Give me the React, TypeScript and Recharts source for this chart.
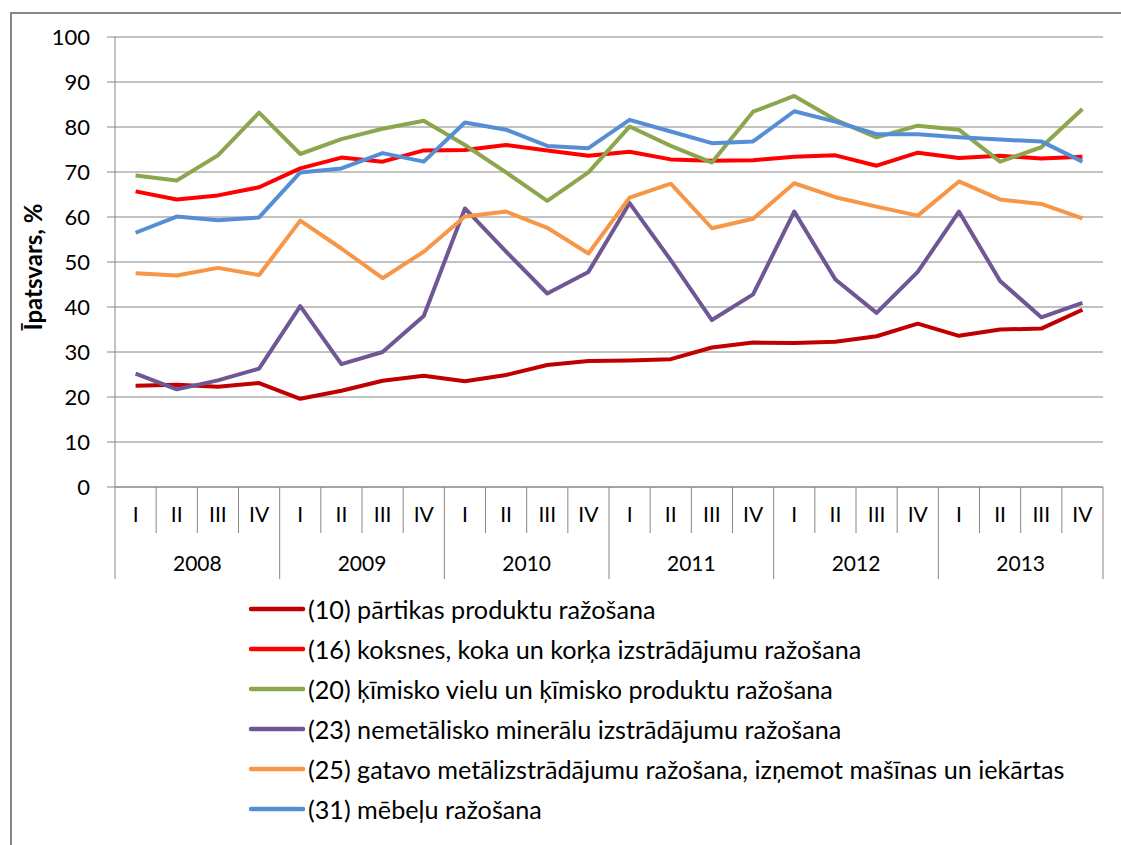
import { LineChart, Line, XAxis, YAxis, CartesianGrid, Legend } from 'recharts';

// Category labels
const years = ['2008', '2009', '2010', '2011', '2012', '2013'];
const quarters = ['I', 'II', 'III', 'IV'];
const yTicks = [0, 10, 20, 30, 40, 50, 60, 70, 80, 90, 100];

// Share, % by NACE division, quarterly 2008–2013
const food = [22.5, 22.7, 22.3, 23.1, 19.6, 21.4, 23.6, 24.7, 23.5, 24.9, 27.1, 28.0, 28.1, 28.4, 31.0, 32.1, 32.0, 32.3, 33.5, 36.3, 33.6, 35.0, 35.2, 39.4];
const wood = [65.7, 63.9, 64.8, 66.6, 70.8, 73.2, 72.3, 74.8, 74.9, 76.0, 74.8, 73.6, 74.5, 72.8, 72.5, 72.6, 73.4, 73.7, 71.4, 74.3, 73.1, 73.6, 73.0, 73.4];
const chemicals = [69.2, 68.1, 73.7, 83.2, 74.0, 77.3, 79.6, 81.4, 76.0, 69.9, 63.6, 69.9, 80.1, 75.8, 72.1, 83.4, 86.9, 81.6, 77.7, 80.3, 79.4, 72.3, 75.5, 84.0];
const minerals = [25.2, 21.7, 23.7, 26.3, 40.2, 27.3, 30.0, 38.0, 61.9, 52.3, 43.0, 47.8, 63.1, 50.4, 37.1, 42.8, 61.2, 46.1, 38.7, 47.8, 61.2, 45.8, 37.7, 40.9];
const metal = [47.5, 47.0, 48.7, 47.1, 59.2, 53.0, 46.4, 52.3, 60.1, 61.2, 57.6, 51.9, 64.3, 67.4, 57.5, 59.6, 67.5, 64.4, 62.3, 60.3, 67.9, 63.9, 62.9, 59.7];
const furniture = [56.5, 60.1, 59.3, 59.9, 69.9, 70.8, 74.2, 72.3, 81.0, 79.4, 75.8, 75.3, 81.6, 79.0, 76.4, 76.8, 83.5, 81.2, 78.4, 78.4, 77.7, 77.2, 76.8, 72.3];

const series = [
  { key: 'food', name: '(10) pārtikas produktu ražošana', color: '#C00000', values: food },
  { key: 'wood', name: '(16) koksnes, koka un korķa izstrādājumu ražošana', color: '#FF0000', values: wood },
  { key: 'chemicals', name: '(20) ķīmisko vielu un ķīmisko produktu ražošana', color: '#8BA64D', values: chemicals },
  { key: 'minerals', name: '(23) nemetālisko minerālu izstrādājumu ražošana', color: '#6E5794', values: minerals },
  { key: 'metal', name: '(25) gatavo metālizstrādājumu ražošana, izņemot mašīnas un iekārtas', color: '#F79646', values: metal },
  { key: 'furniture', name: '(31) mēbeļu ražošana', color: '#558ED5', values: furniture },
];

const chartData = years.flatMap((year, yi) =>
  quarters.map((q, qi) => {
    const i = yi * 4 + qi;
    const row: Record<string, string | number> = { cat: `${year}|${q}` };
    series.forEach((s) => {
      row[s.key] = s.values[i];
    });
    return row;
  })
);

const FONT = 'Lato, "Open Sans", sans-serif';
const GRID = '#868686';
const PLOT_LEFT = 115;
const PLOT_RIGHT = 1103;
const BAND = (PLOT_RIGHT - PLOT_LEFT) / 24;

function CategoryTick(props: any) {
  const { x, y, payload } = props;
  const [year, q] = String(payload.value).split('|');
  const i = payload.index ?? 0;
  const left = x - BAND / 2;
  const right = x + BAND / 2;
  return (
    <g>
      <line x1={left} y1={y} x2={left} y2={y + (i % 4 === 0 ? 92 : 46)} stroke={GRID} strokeWidth={1} />
      {i === 23 && <line x1={right} y1={y} x2={right} y2={y + 92} stroke={GRID} strokeWidth={1} />}
      <text x={x} y={y + 35} textAnchor="middle" fontSize={21} fontFamily={FONT} fill="#000">
        {q}
      </text>
      {i % 4 === 1 && (
        <text x={right} y={y + 84} textAnchor="middle" fontSize={21} fontFamily={FONT} fill="#000">
          {year}
        </text>
      )}
    </g>
  );
}

function LegendContent(props: any) {
  const { payload } = props;
  return (
    <div style={{ fontFamily: FONT, fontSize: 25.2, color: '#000' }}>
      {(payload || []).map((item: any) => (
        <div key={item.value} style={{ display: 'flex', alignItems: 'center', height: 40, whiteSpace: 'nowrap' }}>
          <svg width={58} height={10} style={{ marginRight: 2 }}>
            <line x1={3} y1={5} x2={55} y2={5} stroke={item.color} strokeWidth={4.5} strokeLinecap="round" />
          </svg>
          <span>{item.value}</span>
        </div>
      ))}
    </div>
  );
}

export default function App() {
  return (
    <div style={{ position: 'absolute', left: 0, top: 0, width: 1121, height: 845, overflow: 'hidden', background: '#fff' }}>
      <div
        style={{
          position: 'absolute',
          left: 10,
          top: 12,
          right: -2,
          bottom: -2,
          borderTop: `2px solid ${GRID}`,
          borderLeft: `2px solid ${GRID}`,
        }}
      />
      <div style={{ position: 'absolute', left: 0, top: 0 }}>
        <LineChart
          width={1121}
          height={845}
          data={chartData}
          margin={{ top: 37, right: 1121 - PLOT_RIGHT, bottom: 845 - 487 - 95, left: 0 }}
        >
          <CartesianGrid vertical={false} stroke={GRID} strokeWidth={1} />
          <XAxis
            dataKey="cat"
            height={95}
            interval={0}
            padding={{ left: BAND / 2, right: BAND / 2 }}
            axisLine={{ stroke: GRID, strokeWidth: 1 }}
            tickLine={false}
            tickSize={0}
            tickMargin={0}
            tick={<CategoryTick />}
          />
          <YAxis
            width={PLOT_LEFT}
            domain={[0, 100]}
            ticks={yTicks}
            interval={0}
            axisLine={{ stroke: GRID, strokeWidth: 1 }}
            tickLine={{ stroke: GRID, strokeWidth: 1 }}
            tickSize={8}
            tickMargin={17}
            tick={{ fontSize: 22, fontFamily: FONT, fill: '#000' }}
            label={{
              value: 'Īpatsvars, %',
              angle: -90,
              position: 'insideLeft',
              offset: 0,
              dx: 33,
              dy: 5,
              style: { fontSize: 24, fontWeight: 700, fontFamily: FONT, fill: '#000', textAnchor: 'middle' },
            }}
          />
          <Legend
            layout="vertical"
            align="center"
            verticalAlign="middle"
            content={<LegendContent />}
            wrapperStyle={{ left: 248, top: 589, width: 860 }}
          />
          {series.map((s) => (
            <Line
              key={s.key}
              dataKey={s.key}
              name={s.name}
              stroke={s.color}
              strokeWidth={4}
              strokeLinejoin="round"
              dot={false}
              activeDot={false}
              type="linear"
              isAnimationActive={false}
            />
          ))}
        </LineChart>
      </div>
    </div>
  );
}
